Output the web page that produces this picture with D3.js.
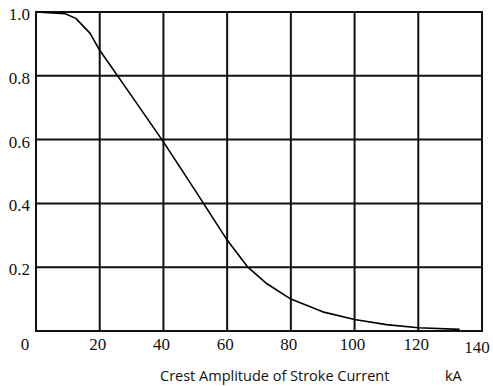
<!DOCTYPE html>
<html>
<head>
<meta charset="utf-8">
<script src="https://cdn.jsdelivr.net/npm/d3@7"></script>
<style>
  html, body { margin: 0; padding: 0; background: #fff; }
  svg { display: block; }
</style>
</head>
<body>
<svg id="chart" width="493" height="386"></svg>
<script>
// Probability that a stroke's crest current exceeds a given amplitude
const currentKA = [0, 9, 12.5, 17, 20, 30, 40, 50, 60, 66.5, 72.5, 80, 90, 100, 110, 120, 133];
const probability = [1.0, 0.995, 0.98, 0.933, 0.88, 0.737, 0.593, 0.44, 0.285, 0.2, 0.148, 0.1, 0.06, 0.036, 0.02, 0.01, 0.005];

const xTicks = [0, 20, 40, 60, 80, 100, 120, 140];
const yTicks = [0.2, 0.4, 0.6, 0.8, 1.0];
const xTitle = "Crest Amplitude of Stroke Current";
const xUnit = "kA";

const svg = d3.select("#chart");
const plot = { left: 36, top: 12, right: 482, bottom: 331 };

const x = d3.scaleLinear().domain([0, 140]).range([plot.left, plot.right]);
const y = d3.scaleLinear().domain([0, 1]).range([plot.bottom, plot.top]);

const ink = "#111";
const serif = '"Liberation Serif"';
const sans = '"Open Sans"';

// grid lines
svg.append("g")
  .selectAll("line")
  .data(xTicks.slice(1, -1))
  .join("line")
  .attr("x1", d => x(d)).attr("x2", d => x(d))
  .attr("y1", plot.top).attr("y2", plot.bottom)
  .attr("stroke", ink).attr("stroke-width", 2);

svg.append("g")
  .selectAll("line")
  .data(yTicks.slice(0, -1))
  .join("line")
  .attr("x1", plot.left).attr("x2", plot.right)
  .attr("y1", d => y(d)).attr("y2", d => y(d))
  .attr("stroke", ink).attr("stroke-width", 2);

// frame
svg.append("rect")
  .attr("x", plot.left).attr("y", plot.top)
  .attr("width", plot.right - plot.left)
  .attr("height", plot.bottom - plot.top)
  .attr("fill", "none").attr("stroke", ink).attr("stroke-width", 2);

// curve
const line = d3.line()
  .x((d, i) => x(currentKA[i]))
  .y(d => y(d));

svg.append("path")
  .datum(probability)
  .attr("d", line)
  .attr("fill", "none")
  .attr("stroke", "#000")
  .attr("stroke-width", 1.6)
  .attr("stroke-linejoin", "round");

// tick labels
svg.append("g")
  .selectAll("text")
  .data(xTicks)
  .join("text")
  .style("font-family", serif)
  .style("font-size", "17px")
  .attr("fill", "#111")
  .attr("x", d => d === 0 ? x(d) - 11 : d === 140 ? x(d) - 5 : x(d) - 2)
  .attr("y", d => d === 140 ? 353 : 350)
  .attr("text-anchor", "middle")
  .text(d => d3.format("d")(d));

svg.append("g")
  .selectAll("text")
  .data(yTicks)
  .join("text")
  .style("font-family", serif)
  .style("font-size", "17px")
  .attr("fill", "#111")
  .attr("x", 30)
  .attr("y", d => y(d) + 8)
  .attr("text-anchor", "end")
  .text(d => d3.format(".1f")(d));

// axis title and unit
svg.append("text")
  .style("font-family", sans)
  .style("font-size", "14.5px")
  .attr("fill", "#111")
  .attr("x", 160).attr("y", 381)
  .text(xTitle);

svg.append("text")
  .style("font-family", sans)
  .style("font-size", "14.5px")
  .attr("fill", "#111")
  .attr("x", 445).attr("y", 381)
  .text(xUnit);
</script>
</body>
</html>
